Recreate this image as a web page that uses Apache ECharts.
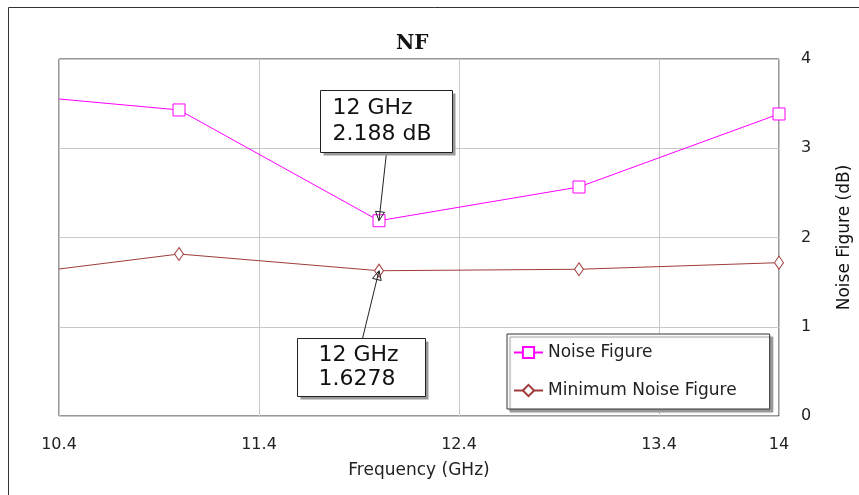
<!DOCTYPE html>
<html>
<head>
<meta charset="utf-8">
<script src="https://cdn.jsdelivr.net/npm/echarts@6/dist/echarts.min.js"></script>
<style>html,body{margin:0;padding:0;background:#fff;}#main{width:859px;height:495px;}</style>
</head>
<body>
<div id="main"></div>
<script>
// ---- data ----
const freqs = [10.4, 11, 12, 13, 14];
const noiseFigure = [3.552, 3.429, 2.188, 2.566, 3.384];
const minNoiseFigure = [1.647, 1.815, 1.6278, 1.644, 1.718];
const xTicks = [10.4, 11.4, 12.4, 13.4, 14];
const yTicks = [0, 1, 2, 3, 4];
const annotationFreqs = [12, 12];
const annotationTexts = ['12 GHz\n2.188 dB', '12 GHz\n1.6278'];

const FONT = '"DejaVu Sans", Verdana, sans-serif';
const NF_COLOR = '#ff00ff';
const MNF_COLOR = '#a03c3c';

function seriesData(ys) {
  return freqs.map((f, i) => i === 0 ? { value: [f, ys[i]], symbol: 'none' } : [f, ys[i]]);
}

const option = {
  animation: false,
  backgroundColor: '#fff',
  title: {
    text: 'NF', left: 391, top: 29,
    textStyle: { fontFamily: '"DejaVu Serif", "Liberation Serif", serif', fontWeight: 'bold', fontSize: 20, color: '#111' }
  },
  grid: { left: 59, top: 59, right: 80, bottom: 79, outerBoundsMode: 'none', containLabel: false,
    show: true, borderColor: '#333', borderWidth: 1, backgroundColor: '#fff' },
  legend: {
    orient: 'vertical', left: 507, top: 334,
    padding: [10, 33, 10, 6], itemGap: 21, itemWidth: 29, itemHeight: 14,
    backgroundColor: '#fff', borderColor: '#333', borderWidth: 1,
    shadowColor: '#999', shadowBlur: 1, shadowOffsetX: 3, shadowOffsetY: 3,
    textStyle: { fontFamily: FONT, fontSize: 17, color: '#222' },
    data: ['Noise Figure', 'Minimum Noise Figure']
  },
  xAxis: {
    type: 'value', min: 10.4, max: 14,
    name: 'Frequency (GHz)', nameLocation: 'middle', nameGap: 46,
    nameTextStyle: { fontFamily: FONT, fontSize: 17, color: '#222' },
    axisLine: { show: false },
    axisTick: { show: false, customValues: xTicks },
    axisLabel: { customValues: xTicks, margin: 21, fontFamily: FONT, fontSize: 16, color: '#222', formatter: v => String(v) },
    splitLine: { show: true, lineStyle: { color: '#c8c8c8', width: 1 } }
  },
  yAxis: {
    type: 'value', position: 'right', min: 0, max: 4, interval: 1,
    name: 'Noise Figure (dB)', nameLocation: 'middle', nameGap: 57, nameRotate: 90,
    nameTextStyle: { fontFamily: FONT, fontSize: 17, color: '#111' },
    axisLine: { show: false },
    axisTick: { show: false },
    axisLabel: { margin: 22, fontFamily: FONT, fontSize: 16, color: '#222', formatter: v => yTicks.includes(v) ? String(v) : '' },
    splitLine: { show: true, lineStyle: { color: '#c8c8c8', width: 1 } }
  },
  series: [
    {
      name: 'Noise Figure', type: 'line', data: seriesData(noiseFigure),
      symbol: 'rect', symbolSize: 12, showAllSymbol: true,
      lineStyle: { color: NF_COLOR, width: 1 },
      itemStyle: { color: '#fff', borderColor: NF_COLOR, borderWidth: 1 },
      emphasis: { disabled: true }, z: 3
    },
    {
      name: 'Minimum Noise Figure', type: 'line', data: seriesData(minNoiseFigure),
      symbol: 'diamond', symbolSize: [9, 13], showAllSymbol: true,
      lineStyle: { color: MNF_COLOR, width: 1 },
      itemStyle: { color: '#fff', borderColor: MNF_COLOR, borderWidth: 1 },
      emphasis: { disabled: true }, z: 3
    }
  ]
};

const chart = echarts.init(document.getElementById('main'), null, { renderer: 'canvas' });
chart.setOption(option);

// annotation layout: box offset relative to data point, leader anchor on box
const annLayouts = [
  { series: noiseFigure, dx: -59, dy: -131, w: 132, h: 62, ax: 66, ay: 62, tx: 12, lh: 26 },
  { series: minNoiseFigure, dx: -82, dy: 67, w: 128, h: 58, ax: 65, ay: 0, tx: 21, lh: 24 }
];

const graphics = [{
  type: 'rect', shape: { x: 8.5, y: 7.5, width: 900, height: 600 },
  style: { fill: 'none', stroke: '#333', lineWidth: 1 }, silent: true, z: 0
}];

annLayouts.forEach((L, k) => {
  const f = annotationFreqs[k];
  const idx = freqs.indexOf(f);
  const p = chart.convertToPixel({ gridIndex: 0 }, [f, L.series[idx]]);
  const bx = Math.round(p[0] + L.dx) + 0.5, by = Math.round(p[1] + L.dy) + 0.5;
  const sx = bx + L.ax, sy = by + L.ay;
  const ang = Math.atan2(p[1] - sy, p[0] - sx);
  const tipX = p[0], tipY = p[1];
  const back = 9, half = 4.5;
  const bxp = tipX - back * Math.cos(ang), byp = tipY - back * Math.sin(ang);
  graphics.push({
    type: 'line', shape: { x1: sx, y1: sy, x2: tipX, y2: tipY },
    style: { stroke: '#222', lineWidth: 1 }, silent: true, z: 100
  });
  graphics.push({
    type: 'polygon',
    shape: { points: [[tipX, tipY],
      [bxp + half * Math.sin(ang), byp - half * Math.cos(ang)],
      [bxp - half * Math.sin(ang), byp + half * Math.cos(ang)]] },
    style: { fill: 'none', stroke: '#222', lineWidth: 1 }, silent: true, z: 100
  });
  graphics.push({
    type: 'rect', shape: { x: bx + 3, y: by + 3, width: L.w, height: L.h },
    style: { fill: '#999', stroke: 'none' }, silent: true, z: 100
  });
  graphics.push({
    type: 'rect', shape: { x: bx, y: by, width: L.w, height: L.h },
    style: { fill: '#fff', stroke: '#222', lineWidth: 1 }, silent: true, z: 101
  });
  graphics.push({
    type: 'text', x: bx + L.tx, y: by + L.h / 2,
    style: { text: annotationTexts[k], fontFamily: FONT, fontSize: 22, fill: '#111',
      lineHeight: L.lh, verticalAlign: 'middle', align: 'left' },
    silent: true, z: 102
  });
});

chart.setOption({ graphic: graphics });
</script>
</body>
</html>
